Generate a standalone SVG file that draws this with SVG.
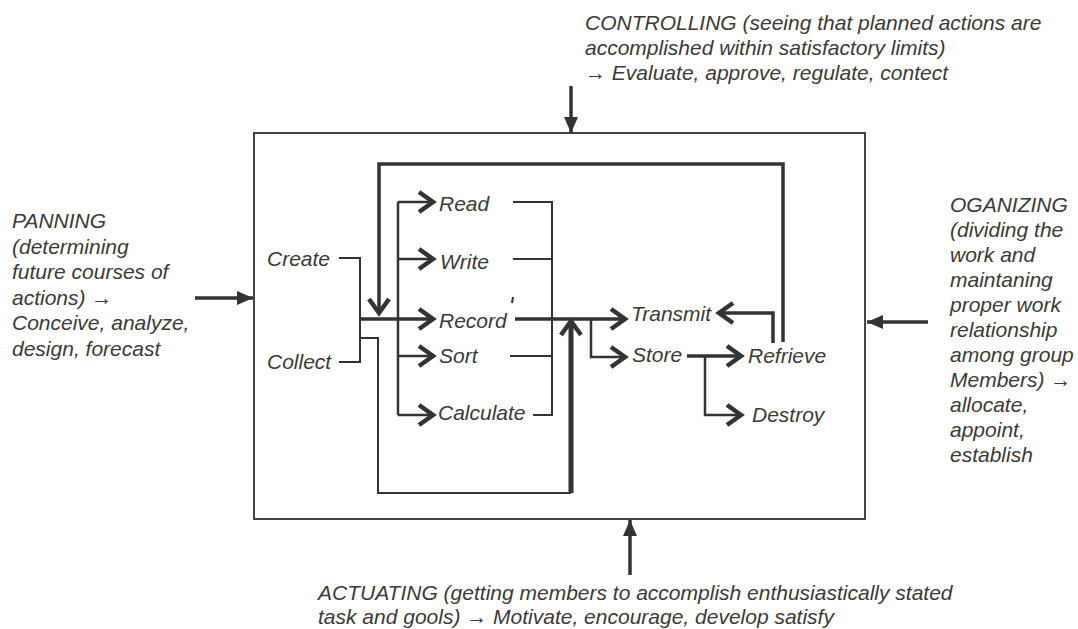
<svg xmlns="http://www.w3.org/2000/svg" width="1078" height="629" viewBox="0 0 1078 629">
<defs>
<marker id="chev" markerUnits="userSpaceOnUse" viewBox="-20 -15 30 30" markerWidth="30" markerHeight="30" refX="0" refY="0" orient="auto" overflow="visible">
<path d="M -14 -10 L 0 0 L -14 10" fill="none" stroke="#333" stroke-width="4.5" stroke-linejoin="miter"/>
</marker>
<marker id="tri" markerUnits="userSpaceOnUse" viewBox="-20 -15 30 30" markerWidth="30" markerHeight="30" refX="0" refY="0" orient="auto" overflow="visible">
<path d="M -16 -7 L 0 0 L -16 7 Z" fill="#333"/>
</marker>
</defs>
<style>
text { font-family: "Liberation Sans", Arial, sans-serif; font-style: italic; font-size: 21px; fill: #3a3a3a; }
.ln { fill: none; stroke: #333; stroke-width: 2; }
.m { stroke-width: 2.5; }
.t { stroke-width: 3.5; }
.tt { stroke-width: 5; }
.ca { marker-end: url(#chev); }
.ta { marker-end: url(#tri); }
</style>
<rect width="1078" height="629" fill="#fff"/>

<g id="process-box">
<rect x="254" y="133" width="611" height="386" fill="none" stroke="#444" stroke-width="2"/>
</g>

<g id="connectors">
<path class="ln" d="M339,258 H360 V362 H339"/>
<path class="ln t ca" d="M360,319 H433"/>
<path class="ln m" d="M398,202 V415"/>
<path class="ln m ca" d="M398,202 H433"/>
<path class="ln m ca" d="M398,259 H433"/>
<path class="ln m ca" d="M398,356 H433"/>
<path class="ln m ca" d="M398,415 H433"/>
<path class="ln" d="M513,202 H552 V415 H533"/>
<path class="ln" d="M513,259 H552"/>
<path class="ln" d="M510,356 H552"/>
<path class="ln t ca" d="M515,319 H625"/>
<path class="ln m ca" d="M591,319 V357 H625"/>
<path class="ln t ca" d="M687,356 H741"/>
<path class="ln m ca" d="M705,356 V415 H741"/>
<path class="ln t ca" d="M773,343 V313 H719"/>
<path class="ln t ca" d="M783,342 V164 H379 V313"/>
<path class="ln" d="M361,338 H378 V493 H571"/>
<path class="ln tt ca" d="M571,493 V321"/>
<path class="ln" d="M513,297 L512,303" stroke-width="1.5"/>
<path class="ln t ta" d="M195,298 H253"/>
<path class="ln t ta" d="M571,86 V133"/>
<path class="ln t ta" d="M928,322 H867"/>
<path class="ln t ta" d="M630,575 V520"/>
</g>

<g id="node-create"><text x="267" y="266">Create</text></g>
<g id="node-collect"><text x="267" y="369">Collect</text></g>
<g id="node-read"><text x="439" y="211">Read</text></g>
<g id="node-write"><text x="440" y="269">Write</text></g>
<g id="node-record"><text x="439" y="328">Record</text></g>
<g id="node-sort"><text x="439" y="363">Sort</text></g>
<g id="node-calculate"><text x="438" y="420">Calculate</text></g>
<g id="node-transmit"><text x="631" y="321">Transmit</text></g>
<g id="node-store"><text x="632" y="362">Store</text></g>
<g id="node-refrieve"><text x="748" y="363">Refrieve</text></g>
<g id="node-destroy"><text x="752" y="422">Destroy</text></g>

<g id="node-controlling">
<text x="585" y="30">CONTROLLING (seeing that planned actions are</text>
<text x="585" y="55">accomplished within satisfactory limits)</text>
<text x="585" y="80">→ Evaluate, approve, regulate, contect</text>
</g>

<g id="node-planning">
<text x="12" y="228">PANNING</text>
<text x="12" y="253.5">(determining</text>
<text x="12" y="279">future courses of</text>
<text x="12" y="304.5">actions) →</text>
<text x="12" y="330">Conceive, analyze,</text>
<text x="12" y="355.5">design, forecast</text>
</g>

<g id="node-organizing">
<text x="950" y="212">OGANIZING</text>
<text x="950" y="237">(dividing the</text>
<text x="950" y="262">work and</text>
<text x="950" y="287">maintaning</text>
<text x="950" y="312">proper work</text>
<text x="950" y="337">relationship</text>
<text x="950" y="362">among group</text>
<text x="950" y="387">Members) →</text>
<text x="950" y="412">allocate,</text>
<text x="950" y="437">appoint,</text>
<text x="950" y="462">establish</text>
</g>

<g id="node-actuating">
<text x="318" y="600">ACTUATING (getting members to accomplish enthusiastically stated</text>
<text x="318" y="624">task and gools) → Motivate, encourage, develop satisfy</text>
</g>
</svg>
